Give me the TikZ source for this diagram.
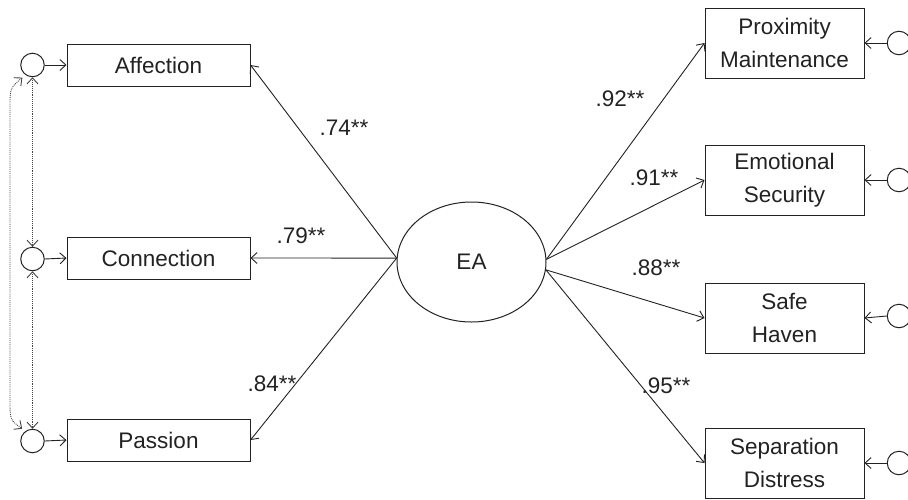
\documentclass[tikz,border=0pt]{standalone}
\usepackage{fontspec}
\setmainfont{Liberation Sans}
\usetikzlibrary{arrows.meta,shapes.geometric}
\definecolor{ink}{HTML}{222222}
\begin{document}
\begin{tikzpicture}[x=1pt,y=-1pt,
  txt/.style={font=\fontsize{22.5}{33}\selectfont, text=ink},
  obsleft/.style={txt, draw=ink, line width=1pt, minimum width=183pt, minimum height=42pt, inner sep=0pt, align=center},
  obsright/.style={txt, draw=ink, line width=1pt, minimum width=159pt, minimum height=70pt, inner sep=0pt, align=center},
  err/.style={circle, draw=ink, line width=1pt, minimum size=23.5pt, inner sep=0pt},
  latent/.style={txt, ellipse, draw=ink, line width=1pt, minimum width=149pt, minimum height=120pt, inner sep=0pt},
  load/.style={draw=ink, line width=0.9pt, -{Straight Barb[length=6pt,width=11pt]}},
  cov/.style={draw=ink!85, line width=0.9pt, densely dotted, {Straight Barb[length=6pt,width=11pt]}-{Straight Barb[length=6pt,width=11pt]}},
  coef/.style={txt}]
\useasboundingbox (0,0) rectangle (908,499);
\clip (0,0) rectangle (908,499);

% latent factor
\node[latent] (ea) at (471.5,262) {EA};

% indicators on the left
\node[obsleft] (aff) at (158.5,65) {Affection};
\node[obsleft] (con) at (158.5,258) {Connection};
\node[obsleft] (pas) at (158.5,440) {Passion};

% indicators on the right
\node[obsright] (pm) at (784.5,43) {Proximity\\Maintenance};
\node[obsright] (es) at (784.5,180) {Emotional\\Security};
\node[obsright] (sh) at (784.5,318) {Safe\\Haven};
\node[obsright] (sd) at (784.5,463) {Separation\\Distress};

% error terms
\node[err] (e1) at (32.5,65) {};
\node[err] (e2) at (32.5,259) {};
\node[err] (e3) at (32.5,441) {};
\node[err] (e4) at (899,43) {};
\node[err] (e5) at (899,180) {};
\node[err] (e6) at (899,316) {};
\node[err] (e7) at (899,463) {};

% loadings
\draw[load] (ea.177.7) -- (aff.east);
\draw[load] (ea.177.7) -- (con.east);
\draw[load] (ea.177.7) -- (pas.east);
\draw[load] (ea.2.3) -- (pm.west);
\draw[load] (ea.2.3) -- (es.west);
\draw[load] (ea.-6.2) -- (sh.west);
\draw[load] (ea.-6.2) -- (sd.west);

% error paths
\draw[load] (e1.east) -- (aff.west);
\draw[load] (e2.east) -- (con.west);
\draw[load] (e3.east) -- (pas.west);
\draw[load] (e4.west) -- (pm.east);
\draw[load] (e5.west) -- (es.east);
\draw[load] (e6.west) -- (sh.east);
\draw[load] (e7.west) -- (sd.east);

% error covariances
\draw[cov] (e1.south) -- (e2.north);
\draw[cov] (e2.south) -- (e3.north);
\draw[cov, shorten <=4pt, shorten >=4pt] (e1.235) .. controls (10,88) .. (10,108) -- (10,400) .. controls (10,420) .. (e3.125);

% coefficients
\node[coef] (c1) at (344,128) {.74**};
\node[coef] (c2) at (301,236) {.79**};
\node[coef] (c3) at (272,384) {.84**};
\node[coef] (c4) at (620,99) {.92**};
\node[coef] (c5) at (654,178) {.91**};
\node[coef] (c6) at (656,268) {.88**};
\node[coef] (c7) at (666,386) {.95**};
\end{tikzpicture}
\end{document}
